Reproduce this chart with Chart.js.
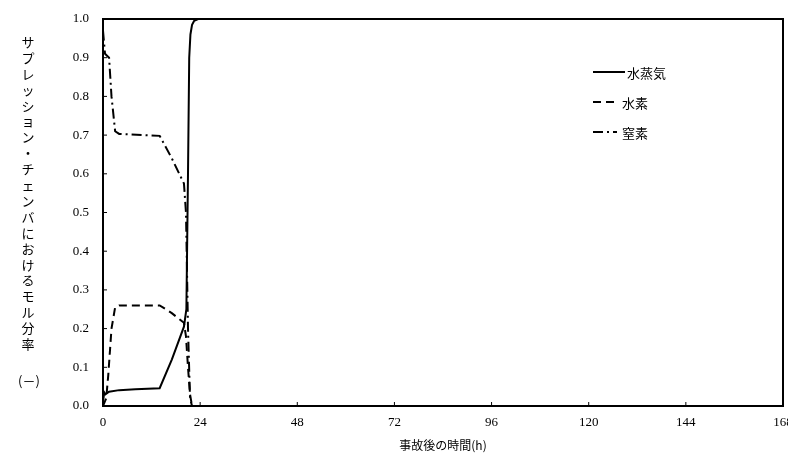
<!DOCTYPE html>
<html>
<head>
<meta charset="utf-8">
<script src="https://cdn.jsdelivr.net/npm/chart.js@4.4.1/dist/chart.umd.min.js"></script>
<style>
  html, body { margin: 0; padding: 0; background: #fff; }
  #wrap { width: 788px; height: 457px; }
</style>
</head>
<body>
<div id="wrap"><canvas id="chart" width="788" height="457"></canvas></div>
<script>
// time axis (h) and mole fractions
const xTicks = [0, 24, 48, 72, 96, 120, 144, 168];
const yTicks = [0, 0.1, 0.2, 0.3, 0.4, 0.5, 0.6, 0.7, 0.8, 0.9, 1.0];

const steamTime   = [0, 0.3, 0.6, 1.5, 4, 8, 14, 17, 20, 20.6, 21.0, 21.3, 21.6, 22.0, 22.5, 23.5, 168];
const steamValues = [0.01, 0.035, 0.03, 0.037, 0.041, 0.043, 0.046, 0.12, 0.205, 0.25, 0.6, 0.9, 0.96, 0.985, 0.995, 1.0, 1.0];

const h2Time   = [0, 0.8, 1.3, 2.1, 3, 4, 14, 17, 20, 20.5, 21, 21.5, 22, 168];
const h2Values = [0, 0.02, 0.08, 0.2, 0.255, 0.26, 0.26, 0.24, 0.215, 0.18, 0.1, 0.03, 0, 0];

const n2Time   = [0, 0.5, 1.5, 2.1, 3, 4, 14, 17, 20, 20.5, 21.0, 21.5, 22, 168];
const n2Values = [0.97, 0.91, 0.9, 0.8, 0.71, 0.703, 0.698, 0.64, 0.575, 0.5, 0.2, 0.02, 0, 0];

const seriesNames = ['水蒸気', '水素', '窒素'];
const yTitleChars = 'サプレッション・チェンバにおけるモル分率';
const xTitle = '事故後の時間(h)';

const numFont = "'Liberation Serif', 'DejaVu Serif', serif";
const jpFont = "'Noto Sans CJK JP', sans-serif";

const toPts = (t, v) => t.map((x, i) => ({ x: x, y: v[i] }));

// frame, inner ticks, legend and the vertical y title
const decorations = {
  id: 'decorations',
  afterDraw(chart) {
    const ctx = chart.ctx;
    const a = chart.chartArea;
    const xs = chart.scales.x, ys = chart.scales.y;
    ctx.save();
    ctx.strokeStyle = '#000';
    ctx.lineWidth = 1;
    ctx.setLineDash([]);
    xTicks.forEach(t => {
      const px = xs.getPixelForValue(t);
      ctx.beginPath(); ctx.moveTo(px, a.bottom); ctx.lineTo(px, a.bottom - 4); ctx.stroke();
    });
    yTicks.forEach(t => {
      const py = ys.getPixelForValue(t);
      ctx.beginPath(); ctx.moveTo(a.left, py); ctx.lineTo(a.left + 4, py); ctx.stroke();
    });
    ctx.lineWidth = 2;
    ctx.strokeRect(a.left, a.top, a.right - a.left, a.bottom - a.top);

    // legend
    ctx.font = '13px ' + jpFont;
    ctx.fillStyle = '#000';
    ctx.textBaseline = 'middle';
    ctx.textAlign = 'left';
    chart.data.datasets.forEach((ds, i) => {
      const y = a.top + 53 + i * 30;
      const x0 = a.left + 490;
      ctx.lineWidth = 2;
      ctx.setLineDash(ds.borderDash || []);
      ctx.beginPath(); ctx.moveTo(x0, y); ctx.lineTo(x0 + (i === 0 ? 32 : 24), y); ctx.stroke();
      ctx.setLineDash([]);
      ctx.fillText(ds.label, x0 + (i === 0 ? 34 : 29), y + 1);
    });

    // y title, written vertically
    ctx.font = '13px ' + jpFont;
    ctx.textAlign = 'center';
    [...yTitleChars].forEach((c, i) => {
      ctx.fillText(c, 28, 42 + i * 15.9);
    });
    ctx.fillText('(－)', 29, 381);
    ctx.restore();
  }
};

new Chart(document.getElementById('chart'), {
  type: 'line',
  data: {
    datasets: [
      { label: seriesNames[0], data: toPts(steamTime, steamValues), borderColor: '#000', borderWidth: 2, borderDash: [] },
      { label: seriesNames[1], data: toPts(h2Time, h2Values), borderColor: '#000', borderWidth: 2, borderDash: [8, 5] },
      { label: seriesNames[2], data: toPts(n2Time, n2Values), borderColor: '#000', borderWidth: 2, borderDash: [10, 4, 2, 4] }
    ]
  },
  options: {
    responsive: false,
    animation: false,
    layout: { padding: { top: 19, right: 5, left: 0, bottom: 0 } },
    elements: { point: { radius: 0 }, line: { tension: 0 } },
    plugins: { legend: { display: false }, tooltip: { enabled: false } },
    scales: {
      x: {
        type: 'linear',
        min: 0, max: 168,
        afterBuildTicks: s => { s.ticks = xTicks.map(v => ({ value: v })); },
        afterFit: s => { s.height = 51; s.paddingLeft = 0; s.paddingRight = 0; },
        grid: { display: false, drawTicks: false },
        border: { display: false },
        ticks: { color: '#000', padding: 9, font: { family: numFont, size: 13 } },
        title: { display: true, text: xTitle, color: '#000', padding: { top: 4, bottom: 4 }, font: { family: jpFont, size: 12 } }
      },
      y: {
        min: 0, max: 1,
        afterBuildTicks: s => { s.ticks = yTicks.map(v => ({ value: v })); },
        afterFit: s => { s.width = 103; s.paddingTop = 0; s.paddingBottom = 0; },
        grid: { display: false, drawTicks: false },
        border: { display: false },
        ticks: { color: '#000', padding: 14, font: { family: numFont, size: 13 } , callback: v => v.toFixed(1) }
      }
    }
  },
  plugins: [decorations]
});
</script>
</body>
</html>
